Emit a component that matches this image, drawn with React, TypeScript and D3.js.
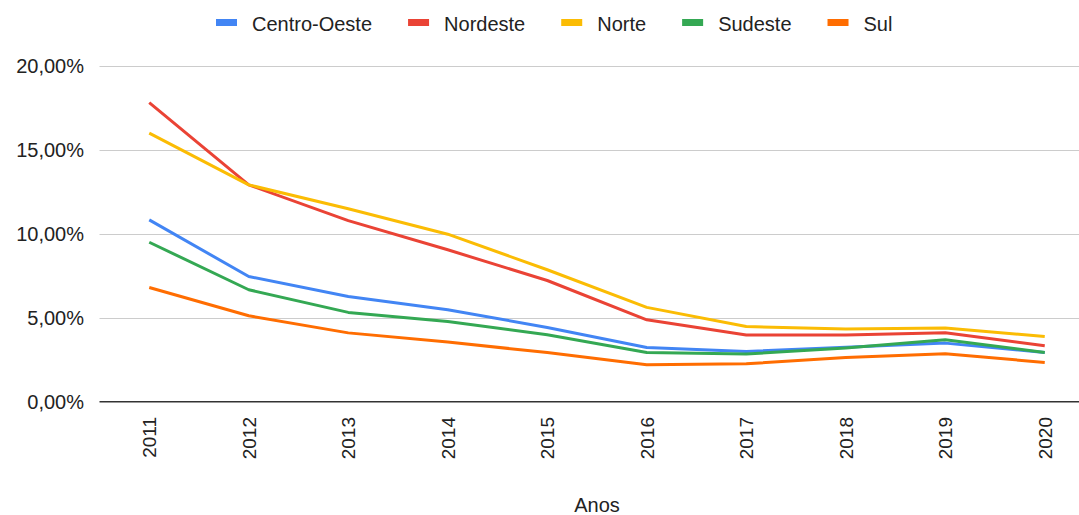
import React, { useEffect, useRef } from "react";
import * as d3 from "d3";

const years = ["2011", "2012", "2013", "2014", "2015", "2016", "2017", "2018", "2019", "2020"];
const seriesNames = ["Centro-Oeste", "Nordeste", "Norte", "Sudeste", "Sul"];
const seriesColors = ["#4285F4", "#EA4335", "#FBBC04", "#34A853", "#FF6D01"];
const centroOeste = [10.83, 7.46, 6.27, 5.48, 4.42, 3.23, 2.99, 3.24, 3.49, 2.93];
const nordeste = [17.82, 12.92, 10.79, 9.05, 7.22, 4.88, 3.97, 3.97, 4.11, 3.33];
const norte = [16.0, 12.92, 11.5, 9.98, 7.86, 5.62, 4.48, 4.33, 4.39, 3.89];
const sudeste = [9.5, 6.67, 5.32, 4.78, 3.99, 2.93, 2.84, 3.2, 3.69, 2.93];
const sul = [6.8, 5.12, 4.1, 3.55, 2.93, 2.2, 2.26, 2.64, 2.86, 2.34];
const yTicks = [0, 5, 10, 15, 20];
const xAxisTitle = "Anos";

const W = 1079;
const H = 515;

export default function App() {
  const ref = useRef<SVGSVGElement | null>(null);

  useEffect(() => {
    const svg = d3.select(ref.current);
    svg.selectAll("*").remove();
    const font = "Arial, 'Liberation Sans', sans-serif";
    const values = [centroOeste, nordeste, norte, sudeste, sul];

    const x = d3.scaleBand<string>().domain(years).range([99.5, 1094.5]);
    const xc = (d: string) => (x(d) as number) + x.bandwidth() / 2;
    const y = d3.scaleLinear().domain([0, 20]).range([401.7, 66]);

    // grid
    svg
      .append("g")
      .selectAll("line")
      .data(yTicks.filter((t) => t !== 0))
      .join("line")
      .attr("x1", 99.5)
      .attr("x2", W)
      .attr("y1", (d) => Math.round(y(d)) + 0.5)
      .attr("y2", (d) => Math.round(y(d)) + 0.5)
      .attr("stroke", "#cccccc")
      .attr("stroke-width", 1);

    // y labels
    svg
      .append("g")
      .selectAll("text")
      .data(yTicks)
      .join("text")
      .attr("x", 84)
      .attr("y", (d) => y(d))
      .attr("dy", "0.36em")
      .attr("text-anchor", "end")
      .attr("font-family", font)
      .attr("font-size", 20)
      .attr("fill", "#222")
      .text((d) => d.toFixed(2).replace(".", ",") + "%");

    // x labels
    svg
      .append("g")
      .selectAll("text")
      .data(years)
      .join("text")
      .attr("transform", (d) => `translate(${xc(d)},417) rotate(-90)`)
      .attr("dy", "0.36em")
      .attr("text-anchor", "end")
      .attr("font-family", font)
      .attr("font-size", 19)
      .attr("fill", "#222")
      .text((d) => d);

    // axis title
    svg
      .append("text")
      .attr("x", 597)
      .attr("y", 512)
      .attr("text-anchor", "middle")
      .attr("font-family", font)
      .attr("font-size", 20)
      .attr("fill", "#222")
      .text(xAxisTitle);

    // lines
    const line = d3
      .line<number>()
      .x((_, i) => xc(years[i]))
      .y((d) => y(d));
    values.forEach((vals, i) => {
      svg
        .append("path")
        .datum(vals)
        .attr("d", line)
        .attr("fill", "none")
        .attr("stroke", seriesColors[i])
        .attr("stroke-width", 3)
        .attr("stroke-linejoin", "round");
    });

    // baseline
    svg
      .append("line")
      .attr("x1", 99.5)
      .attr("x2", W)
      .attr("y1", y(0))
      .attr("y2", y(0))
      .attr("stroke", "#333")
      .attr("stroke-width", 1.5);

    // legend
    const lg = svg.append("g");
    const items = seriesNames.map((name, i) => {
      const g = lg.append("g");
      g.append("rect")
        .attr("x", 0)
        .attr("y", 19)
        .attr("width", 21)
        .attr("height", 7)
        .attr("fill", seriesColors[i]);
      const t = g
        .append("text")
        .attr("x", 36)
        .attr("y", 30.5)
        .attr("font-family", font)
        .attr("font-size", 20)
        .attr("fill", "#222")
        .text(name);
      const w = (t.node() as SVGTextElement).getComputedTextLength();
      return { g, w: 36 + w };
    });
    const gap = 36;
    const total = items.reduce((s, it) => s + it.w, 0) + gap * (items.length - 1);
    let cx = 216;
    const startX = cx;
    void total;
    items.forEach((it) => {
      it.g.attr("transform", `translate(${cx},0)`);
      cx += it.w + gap;
    });
    void startX;
  }, []);

  return <svg ref={ref} width={W} height={H} style={{ display: "block", position: "absolute", left: 0, top: 0 }} />;
}
